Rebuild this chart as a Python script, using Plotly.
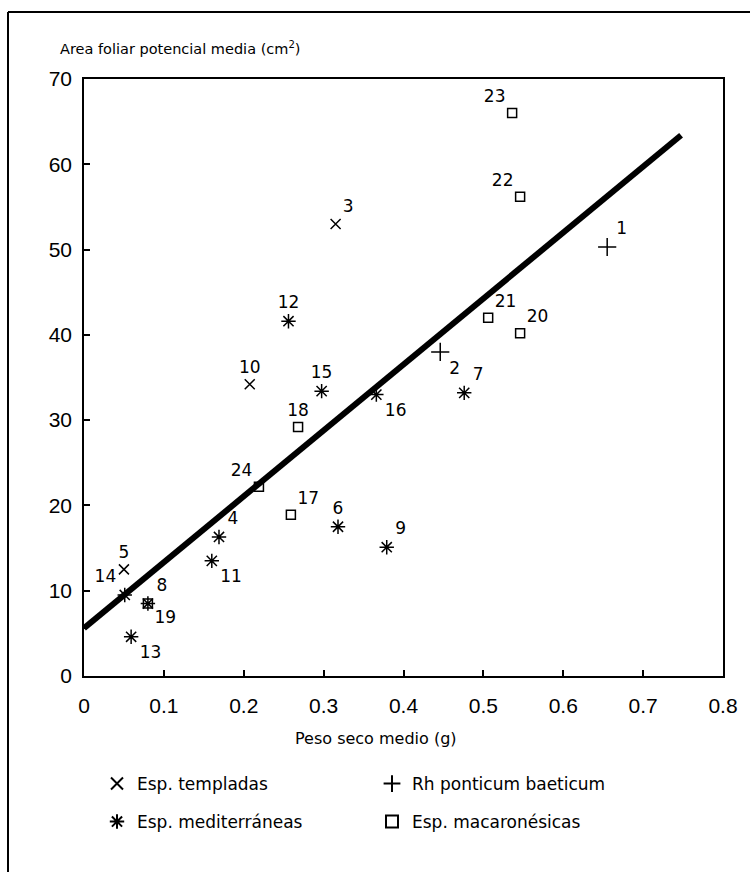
import plotly.graph_objects as go

# ---------------- data ----------------
templ_id = ["3", "5", "10"]
templ_x = [0.315, 0.050, 0.2075]
templ_y = [53.0, 12.5, 34.2]
templ_pos = ["top right", "top center", "top center"]

rh_id = ["1", "2"]
rh_x = [0.655, 0.446]
rh_y = [50.3, 38.0]
rh_pos = ["top right", "bottom right"]

med_id = ["4", "6", "7", "8", "9", "11", "12", "13", "14", "15", "16"]
med_x = [0.169, 0.318, 0.476, 0.080, 0.379, 0.160, 0.256, 0.059, 0.051, 0.2975, 0.366]
med_y = [16.3, 17.5, 33.2, 8.5, 15.1, 13.5, 41.6, 4.6, 9.5, 33.4, 33.0]
med_pos = ["top right", "top center", "top right", "top right", "top right", "bottom right",
           "top center", "bottom right", "top left", "top center", "bottom right"]

mac_id = ["17", "18", "19", "20", "21", "22", "23", "24"]
mac_x = [0.259, 0.268, 0.080, 0.546, 0.506, 0.546, 0.536, 0.219]
mac_y = [18.9, 29.2, 8.5, 40.2, 42.0, 56.2, 66.0, 22.2]
mac_pos = ["top right", "top center", "bottom right", "top right", "top right",
           "top left", "top left", "top left"]

fit_x = [0.0, 0.7475]
fit_y = [5.6, 63.4]

x_ticks = [0, 0.1, 0.2, 0.3, 0.4, 0.5, 0.6, 0.7, 0.8]
x_ticktext = ["0", "0.1", "0.2", "0.3", "0.4", "0.5", "0.6", "0.7", "0.8"]
y_ticks = [0, 10, 20, 30, 40, 50, 60, 70]

# ---------------- layout geometry ----------------
W, H = 750, 872
L, R, T, B = 84, 723, 79, 676          # plot area in page pixels
PW, PH = R - L, B - T


def px(xp):
    return (xp - L) / PW


def py(yp):
    return (B - yp) / PH


TXT = "DejaVu Sans"
NUM = "Liberation Sans"
lab_font = dict(family=TXT, size=17, color="black")

fig = go.Figure()

fig.add_trace(go.Scatter(x=fit_x, y=fit_y, mode="lines",
                         line=dict(color="black", width=6),
                         showlegend=False, hoverinfo="skip"))


def group(name, xs, ys, ids, pos, symbol, size, legend):
    fig.add_trace(go.Scatter(
        x=xs, y=ys, text=ids, textposition=pos, mode="markers+text",
        name=name, legend=legend,
        marker=dict(symbol=symbol, size=size, color="black",
                    line=dict(color="black", width=1.5)),
        textfont=lab_font, cliponaxis=False))


group("Esp. templadas", templ_x, templ_y, templ_id, templ_pos, "x-thin-open", 10, "legend")
group("Rh ponticum baeticum", rh_x, rh_y, rh_id, rh_pos, "cross-thin-open", 13, "legend")
group("Esp. mediterráneas", med_x, med_y, med_id, med_pos, "asterisk-open", 12, "legend2")
group("Esp. macaronésicas", mac_x, mac_y, mac_id, mac_pos, "square-open", 9, "legend2")

axis_common = dict(showline=True, linecolor="black", linewidth=1.5, mirror=True,
                   ticks="inside", ticklen=6, tickwidth=1.5, tickcolor="black",
                   showgrid=False, zeroline=False,
                   tickfont=dict(family=NUM, size=21, color="black"))

fig.update_xaxes(range=[0, 0.8], tickvals=x_ticks, ticktext=x_ticktext,
                 ticklabelstandoff=10, **axis_common)
fig.update_yaxes(range=[0, 70], tickvals=y_ticks, ticklabelstandoff=6, **axis_common)

leg_common = dict(orientation="h", font=dict(family=TXT, size=17, color="black"),
                  bgcolor="rgba(0,0,0,0)", entrywidth=230, entrywidthmode="pixels",
                  xanchor="left", yanchor="middle", itemsizing="constant",
                  xref="paper", yref="paper")

fig.update_layout(
    width=W, height=H,
    margin=dict(l=L, r=W - R, t=T, b=H - B, pad=0),
    paper_bgcolor="white", plot_bgcolor="white",
    font=dict(family=TXT, color="black"),
    legend=dict(x=px(97), y=py(784), **leg_common),
    legend2=dict(x=px(97), y=py(822), **leg_common),
    annotations=[
        dict(text="Area foliar potencial media (cm<sup>2</sup>)", x=px(58), y=py(48),
             xref="paper", yref="paper", xanchor="left", yanchor="middle",
             showarrow=False, font=dict(family=TXT, size=14.5, color="black")),
        dict(text="Peso seco medio (g)", x=px(293), y=py(738),
             xref="paper", yref="paper", xanchor="left", yanchor="middle",
             showarrow=False, font=dict(family=TXT, size=16, color="black")),
    ],
    shapes=[
        dict(type="line", xref="paper", yref="paper",
             x0=px(8), x1=px(8), y0=py(12), y1=py(H), line=dict(color="black", width=2)),
        dict(type="line", xref="paper", yref="paper",
             x0=px(8), x1=px(W), y0=py(12), y1=py(12), line=dict(color="black", width=2)),
    ],
)

fig.write_html("out.html")
